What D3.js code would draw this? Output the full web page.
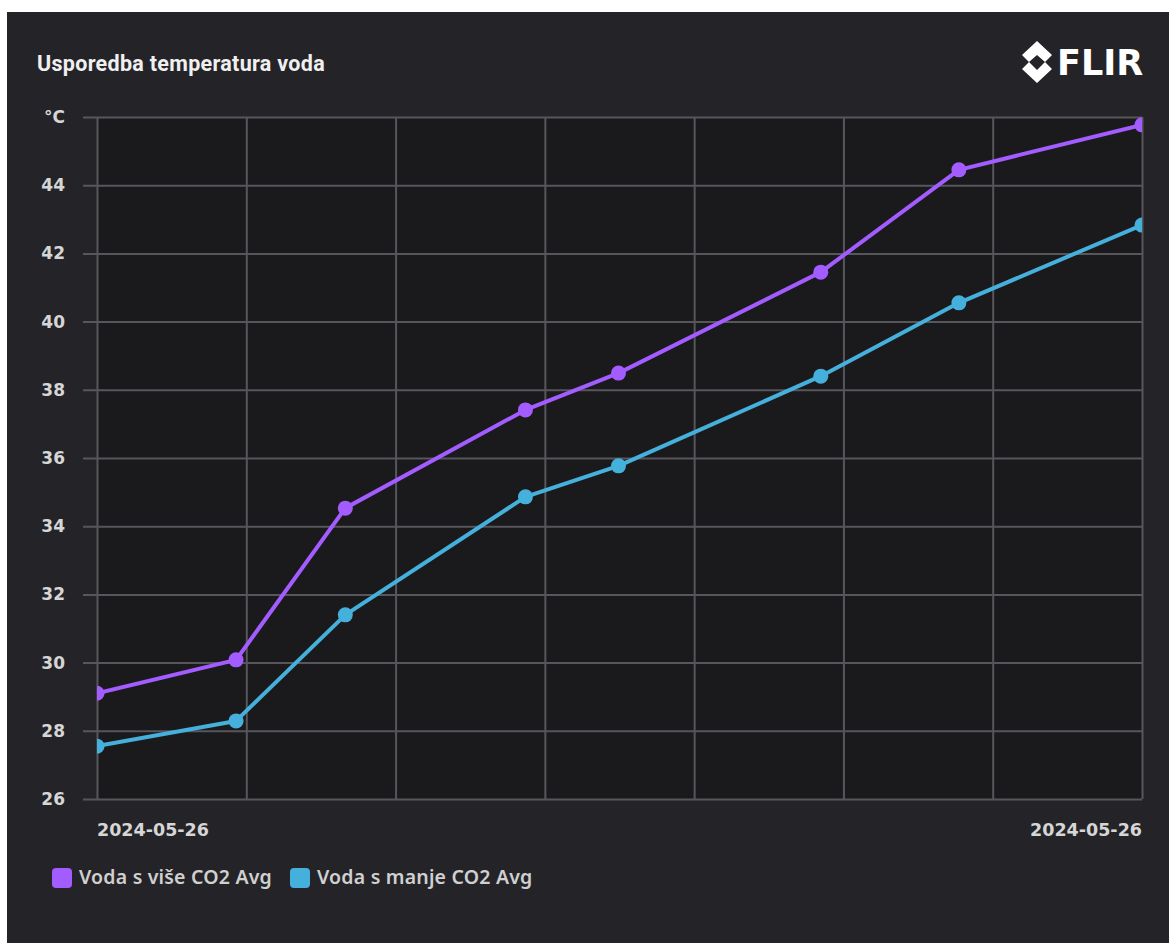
<!DOCTYPE html>
<html>
<head>
<meta charset="utf-8">
<script src="https://cdn.jsdelivr.net/npm/d3@7"></script>
<style>
  body { margin: 0; background: #ffffff; }
  svg { display: block; }
</style>
</head>
<body>
<div id="chart"></div>
<script>
// data (sample times on 2024-05-26)
var times = ['10:00:00', '10:09:19', '10:16:38', '10:28:42', '10:34:56', '10:48:29', '10:57:44', '11:10:00'];
var moreCO2 = [29.1, 30.08, 34.53, 37.41, 38.49, 41.45, 44.45, 45.77];
var lessCO2 = [27.55, 28.29, 31.4, 34.86, 35.77, 38.4, 40.55, 42.83];
var seriesNames = ['Voda s više CO2 Avg', 'Voda s manje CO2 Avg'];
var seriesColors = ['#a35cff', '#46b0dc'];
var yTicks = [26, 28, 30, 32, 34, 36, 38, 40, 42, 44];

var svgWidth = 1169;
var svgHeight = 943;

// plot box inside the dark panel
var margin = { top: 117, right: 27, bottom: 144, left: 97 };
var width = svgWidth - margin.left - margin.right;
var height = svgHeight - margin.top - margin.bottom;

var parseTime = d3.timeParse('%Y-%m-%d %H:%M:%S');
var dates = times.map(t => parseTime('2024-05-26 ' + t));

var svg = d3.select('#chart')
    .append('svg')
    .attr('width', svgWidth)
    .attr('height', svgHeight);

// dark panel
svg.append('rect')
    .attr('x', 7)
    .attr('y', 12)
    .attr('width', svgWidth - 7)
    .attr('height', svgHeight - 12)
    .attr('fill', '#242428');

// title
svg.append('text')
    .attr('x', 37)
    .attr('y', 71)
    .attr('fill', '#f0f0f0')
    .attr('font-family', 'Roboto, sans-serif')
    .attr('font-weight', 'bold')
    .attr('font-size', '21.5px')
    .attr('letter-spacing', '0.3px')
    .text('Usporedba temperatura voda');

// FLIR logo
var logo = svg.append('g').attr('fill', '#ffffff');
logo.append('path')
    .attr('d', 'M1037,41 L1052,55 L1045,62 L1037,55 L1029,62 L1022,55 Z');
logo.append('path')
    .attr('d', 'M1022,69 L1029,62 L1037,70 L1045,62 L1052,69 L1037,83 Z');
logo.append('text')
    .attr('x', 1057)
    .attr('y', 75)
    .attr('font-family', '"DejaVu Sans", sans-serif')
    .attr('font-weight', 'bold')
    .attr('font-size', '35px')
    .text('FLIR');

var chartGroup = svg.append('g')
    .attr('transform', `translate(${margin.left}, ${margin.top})`);

chartGroup.append('rect')
    .attr('width', width)
    .attr('height', height)
    .attr('fill', '#1a1a1c');

// scales
var xScale = d3.scaleTime()
    .domain(d3.extent(dates))
    .range([0, width]);

var yScale = d3.scaleLinear()
    .domain([26, 46])
    .range([height, 0]);

// horizontal grid + short ticks sticking out on the left
var leftAxis = d3.axisLeft(yScale)
    .tickValues(yTicks.concat([46]))
    .tickSize(-width - 14)
    .tickPadding(18)
    .tickFormat(d => d === 46 ? '°C' : d);

var yAxis = chartGroup.append('g')
    .attr('transform', 'translate(-14, 0)')
    .call(leftAxis);

yAxis.select('.domain').remove();
yAxis.selectAll('line')
    .attr('stroke', '#56565c')
    .attr('stroke-width', 2);
yAxis.selectAll('text')
    .attr('fill', '#d6d6d6')
    .attr('font-family', '"DejaVu Sans", sans-serif')
    .attr('font-weight', 'bold')
    .attr('font-size', '17px');

// vertical grid every 10 minutes
var bottomAxis = d3.axisBottom(xScale)
    .ticks(d3.timeMinute.every(10))
    .tickSize(height)
    .tickFormat('');

var xAxis = chartGroup.append('g')
    .call(bottomAxis);

xAxis.select('.domain').remove();
xAxis.selectAll('line')
    .attr('stroke', '#56565c')
    .attr('stroke-width', 2);

// date labels at both ends
var fmt = d3.timeFormat('%Y-%m-%d');
chartGroup.selectAll('.dateLabel')
    .data([dates[0], dates[dates.length - 1]])
    .enter()
    .append('text')
    .attr('x', d => xScale(d))
    .attr('y', height + 37)
    .attr('text-anchor', (d, i) => i === 0 ? 'start' : 'end')
    .attr('fill', '#d6d6d6')
    .attr('font-family', '"DejaVu Sans", sans-serif')
    .attr('font-weight', 'bold')
    .attr('font-size', '17.5px')
    .text(d => fmt(d));

// clip the lines to the plot box
chartGroup.append('clipPath')
    .attr('id', 'plotClip')
    .append('rect')
    .attr('width', width)
    .attr('height', height);

var line = d3.line()
    .x(d => xScale(d.date))
    .y(d => yScale(d.value));

var series = [moreCO2, lessCO2].map((vals, i) => ({
    name: seriesNames[i],
    color: seriesColors[i],
    points: vals.map((v, j) => ({ date: dates[j], value: v }))
}));

var lineGroup = chartGroup.append('g')
    .attr('clip-path', 'url(#plotClip)');

series.forEach(s => {
    lineGroup.append('path')
        .datum(s.points)
        .attr('d', line)
        .attr('fill', 'none')
        .attr('stroke', s.color)
        .attr('stroke-width', 4)
        .attr('stroke-linejoin', 'round');

    lineGroup.selectAll(null)
        .data(s.points)
        .enter()
        .append('circle')
        .attr('cx', d => xScale(d.date))
        .attr('cy', d => yScale(d.value))
        .attr('r', 7.5)
        .attr('fill', s.color);
});

// legend
var legend = svg.append('g')
    .attr('transform', 'translate(52, 868)');

var legendX = 0;
series.forEach(s => {
    var item = legend.append('g')
        .attr('transform', `translate(${legendX}, 0)`);
    item.append('rect')
        .attr('width', 20)
        .attr('height', 20)
        .attr('rx', 4)
        .attr('fill', s.color);
    var label = item.append('text')
        .attr('x', 27)
        .attr('y', 16)
        .attr('fill', '#d0d0d0')
        .attr('font-family', '"Noto Sans", sans-serif')
        .attr('font-weight', 600)
        .attr('font-size', '19.5px')
        .attr('letter-spacing', '0.2px')
        .text(s.name);
    legendX += 27 + label.node().getComputedTextLength() + 18;
});
</script>
</body>
</html>
